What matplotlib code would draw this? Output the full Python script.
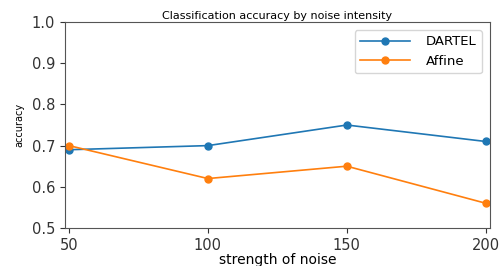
import matplotlib
matplotlib.use('Agg')
import matplotlib.pyplot as plt

noise = [50, 100, 150, 200]
dartel = [0.69, 0.70, 0.75, 0.71]
affine = [0.70, 0.62, 0.65, 0.56]

fig = plt.figure(figsize=(5.02, 2.66), dpi=100)
ax = fig.add_axes([0.129, 0.143, 0.847, 0.774])
ax.plot(noise, dartel, marker='o', markersize=5, linewidth=1.2, label='DARTEL')
ax.plot(noise, affine, marker='o', markersize=5, linewidth=1.2, label='Affine')
ax.set_xlim(48.5, 201.5)
ax.set_ylim(0.5, 1.0)
ax.set_xticks(noise)
ax.tick_params(labelsize=10.5, colors='#333333')
for s in ax.spines.values():
    s.set_color('#555555')
ax.set_title('Classification accuracy by noise intensity', fontsize=8, pad=2)
ax.set_xlabel('strength of noise', fontsize=10, labelpad=0)
ax.set_ylabel('accuracy', fontsize=7, labelpad=5)
ax.legend(loc='upper right', fontsize=9.5, handlelength=3.8, handletextpad=1.2,
          borderaxespad=0.6)
fig.savefig('out.png', dpi=100)
